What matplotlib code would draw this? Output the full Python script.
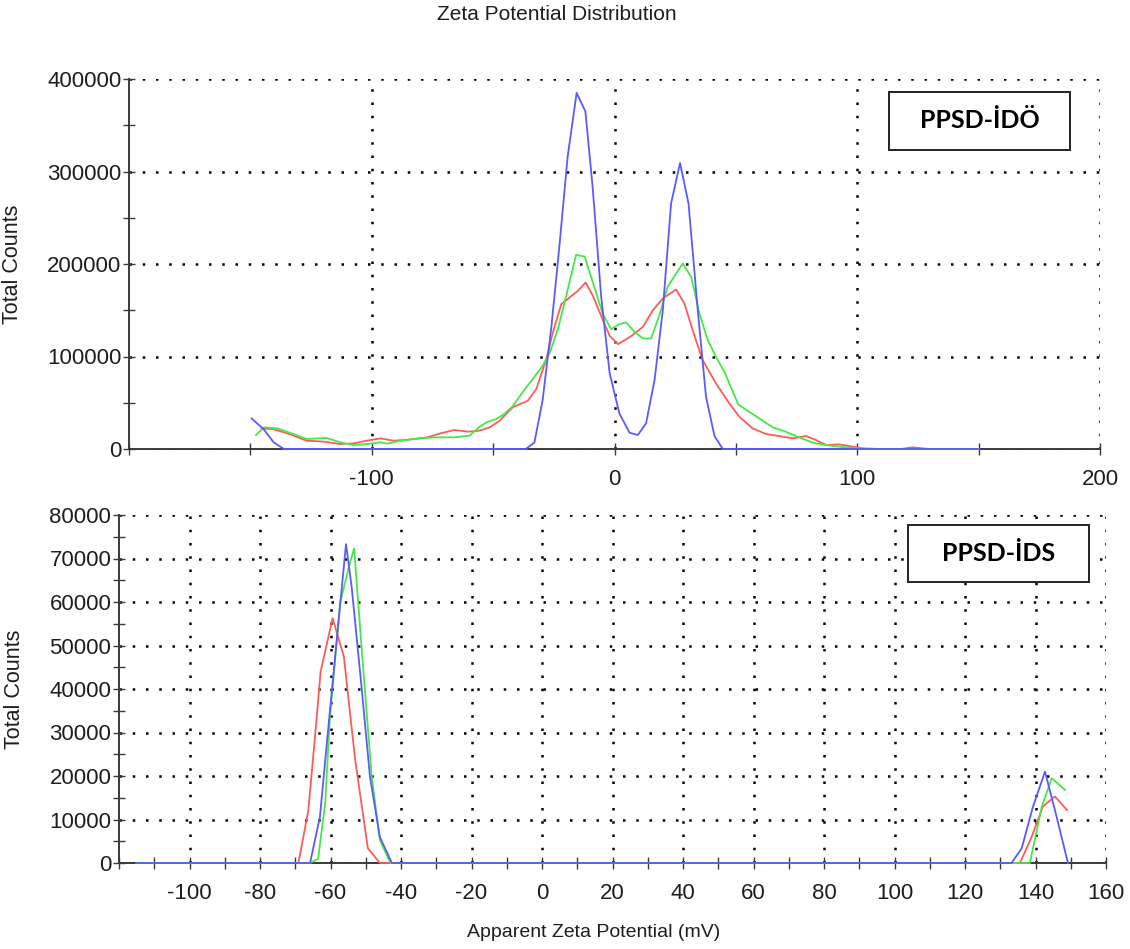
import matplotlib
matplotlib.use("Agg")
import matplotlib.pyplot as plt
from matplotlib.patches import Rectangle
from matplotlib.ticker import FixedLocator, FixedFormatter, MultipleLocator

plt.rcParams['font.family'] = ['Liberation Sans', 'DejaVu Sans']

# ---------------- data: upper panel (PPSD-İDÖ) ----------------
top_red_x = [-145.4, -140.7, -133.7, -126.9, -120.0, -113.0, -107.6, -102.0, -96.3, -91.0,
             -85.3, -77.0, -71.6, -66.0, -60.2, -55.6, -51.4, -47.3, -42.0, -35.7,
             -32.2, -28.1, -25.4, -21.9, -18.5, -15.1, -11.9, -8.9, -5.5, -2.0,
             1.4, 4.5, 7.4, 11.7, 15.8, 19.9, 25.4, 28.8, 32.2, 36.3,
             41.8, 47.3, 51.4, 56.9, 62.4, 67.9, 73.4, 78.9, 83.0, 87.1,
             92.6, 98.1, 102.2, 110.0, 118.0, 122.8, 129.6, 150.0]
top_red_y = [22000, 21600, 16000, 9000, 8000, 5400, 6000, 9000, 11500, 9000,
             10000, 12600, 17000, 20500, 18700, 19800, 23400, 30600, 45000, 52200,
             64800, 97200, 126000, 156600, 163800, 171000, 180000, 165600, 144000, 122400,
             113400, 118000, 123000, 132000, 150000, 162700, 172400, 157300, 128500, 96100,
             70900, 49300, 34900, 22300, 16200, 14000, 11500, 14000, 9700, 4300,
             5000, 2500, 700, 0, 0, 1800, 0, 0]

top_green_x = [-147.7, -144.4, -138.8, -132.3, -126.9, -118.6, -113.0, -107.6, -102.0, -96.3,
               -93.6, -88.0, -80.0, -74.4, -66.0, -59.7, -55.6, -52.6, -48.7, -45.5,
               -42.0, -37.9, -33.7, -29.6, -26.7, -23.3, -19.9, -15.8, -12.3, -8.9,
               -4.8, -1.4, 2.0, 4.8, 8.2, 11.7, 15.1, 18.5, 21.9, 25.4,
               28.1, 31.6, 35.0, 38.4, 41.8, 45.5, 51.0, 59.0, 65.2, 70.6,
               76.1, 81.6, 87.1, 92.6, 99.5, 105.0, 150.0]
top_green_y = [15000, 23400, 22300, 16200, 10800, 11900, 7200, 4300, 5400, 7200,
               5800, 9000, 11500, 12600, 12600, 14400, 24000, 29000, 32400, 37800,
               46000, 61200, 75600, 90000, 104000, 129600, 165600, 209900, 208000, 180000,
               145800, 129600, 135000, 136800, 126700, 119500, 119500, 144700, 175300, 189700,
               200500, 186100, 146500, 117700, 99700, 82000, 48000, 34200, 23400, 18700,
               12600, 6800, 4300, 2500, 700, 0, 0]

top_blue_x = [-149.5, -144.6, -140.4, -136.2, -36.5, -33.0, -29.6, -26.0, -22.6, -19.3,
              -15.6, -12.0, -9.0, -5.5, -2.0, 2.0, 6.2, 9.6, 13.0, 16.5,
              19.9, 23.3, 27.0, 30.5, 34.3, 37.7, 41.2, 44.6, 150.0]
top_blue_y = [33000, 21600, 7200, 0, 0, 7000, 53000, 132000, 222000, 316000,
              385000, 365000, 283000, 165000, 82000, 38500, 17600, 15100, 27700, 74500,
              150100, 265300, 309200, 265300, 150100, 56500, 14000, 0, 0]

# ---------------- data: lower panel (PPSD-İDS) ----------------
bot_red_x = [-115.0, -69.1, -66.3, -64.4, -62.8, -59.4, -56.2, -53.0, -49.4, -46.0,
             135.6, 138.9, 142.1, 145.5, 148.9]
bot_red_y = [0, 0, 12000, 29000, 44000, 56300, 47400, 23700, 3400, 0,
             0, 6000, 13000, 15300, 12200]

bot_green_x = [-115.0, -65.8, -63.5, -61.5, -60.2, -57.3, -54.5, -53.3, -50.7, -48.3,
               -46.0, -43.0, 138.4, 141.8, 144.6, 148.4]
bot_green_y = [0, 0, 1000, 13800, 33000, 59700, 69000, 72300, 44400, 19800,
               5300, 0, 0, 13000, 19500, 16800]

bot_blue_x = [-115.0, -65.8, -63.0, -60.4, -57.9, -55.6, -54.0, -51.2, -48.8, -46.0,
              -42.6, 133.2, 136.1, 139.3, 142.7, 146.0, 149.2]
bot_blue_y = [0, 0, 10600, 33000, 54000, 73300, 63500, 40500, 19800, 6000,
              0, 0, 3400, 13000, 21000, 10600, 0]

# tick positions and labels
top_xticks = [-100, 0, 100, 200]
top_xticklabels = ['-100', '0', '100', '200']
top_yticks = [0, 100000, 200000, 300000, 400000]
top_yticklabels = ['0', '100000', '200000', '300000', '400000']
bot_xticks = [-100, -80, -60, -40, -20, 0, 20, 40, 60, 80, 100, 120, 140, 160]
bot_xticklabels = [str(v) for v in bot_xticks]
bot_yticks = [0, 10000, 20000, 30000, 40000, 50000, 60000, 70000, 80000]
bot_yticklabels = [str(v) for v in bot_yticks]

RED = '#ff5a5a'
GREEN = '#45e845'
BLUE = '#5a5aff'
TXT = '#1e1e1e'

fig = plt.figure(figsize=(11.30, 9.49), dpi=100)
fig.patch.set_facecolor('white')

ax1 = fig.add_axes([129 / 1130, 1 - 449 / 949, 971 / 1130, 370 / 949])
ax2 = fig.add_axes([119 / 1130, 1 - 863 / 949, 987 / 1130, 348 / 949])


def style(ax, xticks, xlabels, yticks, ylabels, xminor, yminor, xlim, ylim):
    ax.set_xlim(*xlim)
    ax.set_ylim(*ylim)
    ax.xaxis.set_major_locator(FixedLocator(xticks))
    ax.xaxis.set_major_formatter(FixedFormatter(xlabels))
    ax.yaxis.set_major_locator(FixedLocator(yticks))
    ax.yaxis.set_major_formatter(FixedFormatter(ylabels))
    ax.xaxis.set_minor_locator(MultipleLocator(xminor))
    ax.yaxis.set_minor_locator(MultipleLocator(yminor))
    for s in ('top', 'right'):
        ax.spines[s].set_visible(False)
    for s in ('left', 'bottom'):
        ax.spines[s].set_color('#3a3a3a')
        ax.spines[s].set_linewidth(1.4)
    ax.tick_params(which='both', direction='inout', color='#3a3a3a', width=1.0)
    ax.tick_params(which='major', length=8)
    ax.tick_params(which='minor', length=8)
    ax.tick_params(axis='x', which='major', pad=10.5, labelsize=16, labelcolor=TXT)
    ax.tick_params(axis='y', which='major', pad=1.5, labelsize=16, labelcolor=TXT)
    ax.grid(which='major', color='black', linestyle=(0, (1, 4.3)), linewidth=1.8)
    ax.set_axisbelow(True)
    ax.set_facecolor('white')


style(ax1, top_xticks, top_xticklabels, top_yticks, top_yticklabels,
      50, 50000, (-200, 200), (0, 400000))
style(ax2, bot_xticks, bot_xticklabels, bot_yticks, bot_yticklabels,
      10, 5000, (-120, 160), (0, 80000))

for ax, series in (
        (ax1, [(top_red_x, top_red_y, RED), (top_green_x, top_green_y, GREEN),
               (top_blue_x, top_blue_y, BLUE)]),
        (ax2, [(bot_red_x, bot_red_y, RED), (bot_green_x, bot_green_y, GREEN),
               (bot_blue_x, bot_blue_y, BLUE)])):
    for xs, ys, c in series:
        ax.plot(xs, ys, color=c, linewidth=1.3, zorder=3, clip_on=False)

ax1.set_ylabel('Total Counts', fontsize=15.5, color=TXT)
ax1.yaxis.set_label_coords(-0.109, 0.5)
ax2.set_ylabel('Total Counts', fontsize=15.5, color=TXT)
ax2.yaxis.set_label_coords(-0.095, 0.5)
ax2.set_xlabel('Apparent Zeta Potential (mV)', fontsize=14, color=TXT)
ax2.xaxis.set_label_coords(0.481, -0.175)

fig.text(557 / 1130, 1 - 14 / 949, 'Zeta Potential Distribution',
         ha='center', va='center', fontsize=15, color=TXT)

# sample name boxes
for ax, (x0, y0, x1, y1), name in (
        (ax1, (0.7827, 0.8081, 0.9691, 0.9649), 'PPSD-İDÖ'),
        (ax2, (0.7994, 0.8075, 0.9828, 0.9713), 'PPSD-İDS')):
    ax.add_patch(Rectangle((x0, y0), x1 - x0, y1 - y0, transform=ax.transAxes,
                           facecolor='white', edgecolor='#222222', linewidth=1.4,
                           zorder=5, clip_on=False))
    ax.text((x0 + x1) / 2, (y0 + y1) / 2, name, transform=ax.transAxes,
            ha='center', va='center', fontsize=18, fontweight='bold',
            family=['Lato', 'DejaVu Sans'], color='black', zorder=6)

fig.savefig('out.png', dpi=100, facecolor='white')
